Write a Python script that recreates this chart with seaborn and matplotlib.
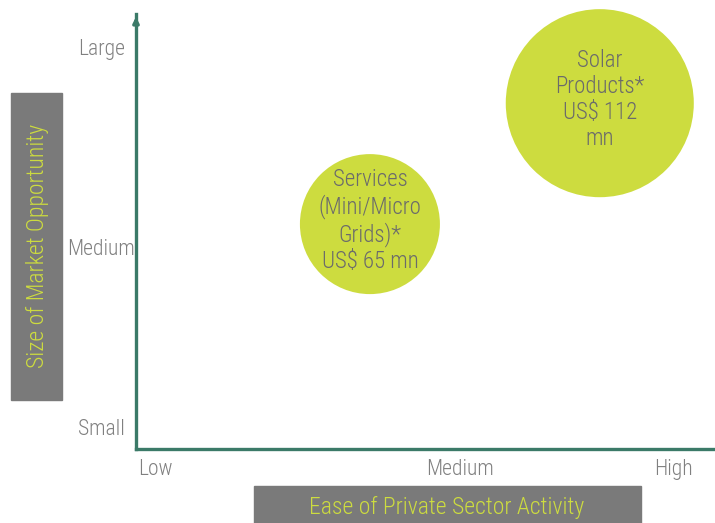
import numpy as np
import pandas as pd
import seaborn as sns
import matplotlib.pyplot as plt
from matplotlib.patches import Rectangle

# Data (positions on a 0-100 scale for each axis)
segments = ['Services (Mini/Micro Grids)', 'Solar Products']
bubble_labels = ['Services\n(Mini/Micro\nGrids)*\nUS$ 65 mn', 'Solar\nProducts*\nUS$ 112\nmn']
ease = [40.4, 80.1]
market_size = [51.7, 79.5]
value_mn = [65, 112]

x_ticks = [3.3, 56, 92.9]
x_ticklabels = ['Low', 'Medium', 'High']
y_ticks = [5.1, 46.4, 92.4]
y_ticklabels = ['Small', 'Medium', 'Large']

df = pd.DataFrame({'segment': segments, 'ease': ease, 'size': market_size, 'value': value_mn})

sns.set_style('white')
plt.rcParams['font.family'] = ['Roboto Condensed', 'DejaVu Sans']
plt.rcParams['font.weight'] = 'light'

lime = '#cddc3f'
teal = '#3b7a68'
grey_txt = '#808080'
box_grey = '#7a7a7a'

W, H = 715, 523
fig = plt.figure(figsize=(W / 100, H / 100), dpi=100)
ax = fig.add_axes([136 / W, (H - 449) / H, (715 - 136) / W, (449 - 14) / H])

sns.scatterplot(data=df, x='ease', y='size', size='value', sizes=(10160, 18330),
                size_norm=(65, 112), color=lime, edgecolor='none', alpha=1,
                legend=False, ax=ax, zorder=3, clip_on=False)

for xi, yi, lab in zip(ease, market_size, bubble_labels):
    ax.text(xi, yi + 0.8, lab, ha='center', va='center', fontsize=16.5,
            color='#6b6b6b', linespacing=1.17, zorder=4)

ax.set_xlim(0, 100)
ax.set_ylim(0, 100)
ax.set_xticks(x_ticks)
ax.set_xticklabels(x_ticklabels)
ax.set_yticks(y_ticks)
ax.set_yticklabels(y_ticklabels, ha='center')
ax.tick_params(axis='both', length=0, labelsize=15.5, labelcolor=grey_txt)
ax.tick_params(axis='x', pad=7)
ax.tick_params(axis='y', pad=25)
ax.set_xlabel('')
ax.set_ylabel('')

for side in ['top', 'right']:
    ax.spines[side].set_visible(False)
for side in ['left', 'bottom']:
    ax.spines[side].set_color(teal)
    ax.spines[side].set_linewidth(2.4)

# small arrow head on top of the y axis
ax.annotate('', xy=(0, 1.0), xytext=(0, 0.97), xycoords='axes fraction',
            arrowprops=dict(arrowstyle='-|>', color=teal, lw=2.4, mutation_scale=8),
            annotation_clip=False)

# grey boxes holding the axis titles
fig.patches.append(Rectangle((11 / W, (H - 400) / H), 51 / W, 307 / H,
                             transform=fig.transFigure, color=box_grey, zorder=0))
fig.text(37 / W, (H - 246) / H, 'Size of Market Opportunity', rotation=90,
         ha='center', va='center', fontsize=17, color=lime)
fig.patches.append(Rectangle((254 / W, 0), 387 / W, 37 / H,
                             transform=fig.transFigure, color=box_grey, zorder=0))
fig.text(447 / W, (H - 507) / H, 'Ease of Private Sector Activity',
         ha='center', va='center', fontsize=17, color=lime)

fig.savefig('out.png', dpi=100)
